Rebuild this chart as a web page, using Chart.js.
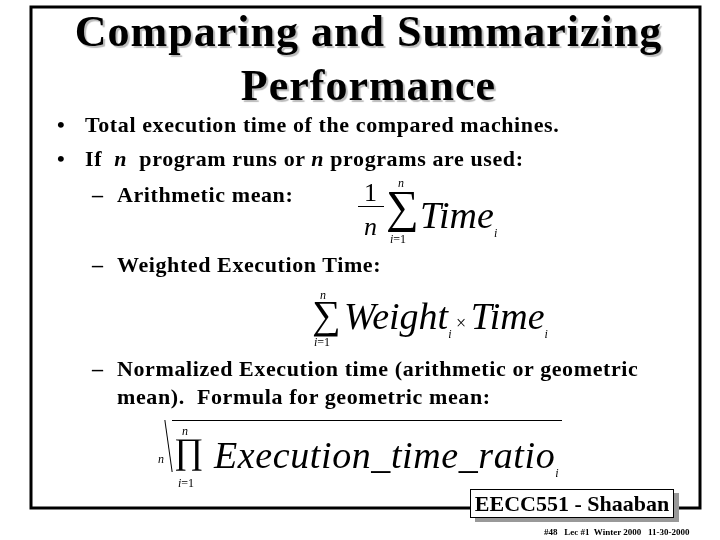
<!DOCTYPE html>
<html><head><meta charset="utf-8">
<script src="https://cdn.jsdelivr.net/npm/chart.js@4/dist/chart.umd.min.js"></script>
<style>
body{margin:0;width:720px;height:540px;background:#fff;font-family:"Liberation Serif","Times New Roman",serif;position:relative;overflow:hidden}
#c{position:absolute;left:0;top:0}
.t{position:absolute;white-space:nowrap;color:#000}
.title{font-weight:bold;font-size:44px;letter-spacing:1px;text-shadow:2px 2px 1px #bbb;left:0;width:737px;text-align:center}
.b{font-weight:bold;font-size:22px;letter-spacing:0.6px}
.m{font-style:italic;font-size:36px}
.s{font-size:12px}
.foot{position:absolute;left:470px;top:489px;width:202px;height:27px;border:1px solid #000;box-shadow:5px 4px 0 #999;background:#fff;font-size:22px;text-align:center;line-height:27px;font-weight:bold}
</style></head><body>
<canvas id="c" width="720" height="540"></canvas>
<div class="t title" style="top:6px">Comparing and Summarizing</div>
<div class="t title" style="top:60px">Performance</div>
<div class="t b" style="left:57px;top:112px">•</div>
<div class="t b" style="left:85px;top:112px">Total execution time of the compared machines.</div>
<div class="t b" style="left:57px;top:146px">•</div>
<div class="t b" style="left:85px;top:146px">If&nbsp; <i>n</i>&nbsp; program runs or <i>n</i> programs are used:</div>
<div class="t b" style="left:92px;top:182px">–</div>
<div class="t b" style="left:117px;top:182px">Arithmetic mean:</div>
<div class="t b" style="left:92px;top:252px">–</div>
<div class="t b" style="left:117px;top:252px">Weighted Execution Time:</div>
<div class="t b" style="left:92px;top:356px">–</div>
<div class="t b" style="left:117px;top:356px">Normalized Execution time (arithmetic or geometric</div>
<div class="t b" style="left:117px;top:384px">mean).&nbsp; Formula for geometric mean:</div>
<!-- arithmetic mean -->
<div class="t" style="left:364px;top:178px;font-size:26px">1</div>
<div class="t" style="left:358px;top:206px;width:26px;border-top:1px solid #000"></div>
<div class="t m" style="left:364px;top:212px;font-size:26px">n</div>
<div class="t" style="top:176px;font-size:12px;font-style:italic;left:398px">n</div>
<div class="t" style="left:386px;top:180px;font-size:46px">∑</div>
<div class="t s" style="left:390px;top:232px"><i>i</i>=1</div>
<div class="t m" style="left:420px;top:193px;font-size:38px">Time<sub style="font-size:12px">i</sub></div>
<!-- weighted -->
<div class="t s" style="left:320px;top:288px;font-style:italic">n</div>
<div class="t" style="left:312px;top:291px;font-size:40px">∑</div>
<div class="t s" style="left:314px;top:335px"><i>i</i>=1</div>
<div class="t m" style="left:344px;top:294px;font-size:38px">Weight<sub style="font-size:12px">i</sub><span style="font-style:normal;font-size:18px"> × </span>Time<sub style="font-size:12px">i</sub></div>
<!-- geometric -->
<div class="t s" style="left:158px;top:452px;font-style:italic">n</div>
<div class="t" style="left:148px;top:420px;width:20px;height:52px;border-right:1px solid #000;transform:skewX(8deg)"></div>
<div class="t" style="left:172px;top:420px;width:390px;border-top:1px solid #000"></div>
<div class="t s" style="left:182px;top:424px;font-style:italic">n</div>
<div class="t" style="left:174px;top:430px;font-size:36px">∏</div>
<div class="t s" style="left:178px;top:476px"><i>i</i>=1</div>
<div class="t m" style="left:214px;top:433px;font-size:38px;letter-spacing:0.6px">Execution_time_ratio<sub style="font-size:12px">i</sub></div>
<div class="foot">EECC551 - Shaaban</div>
<div class="t" style="left:544px;top:527px;font-size:9px;font-weight:bold">#48&nbsp;&nbsp; Lec #1&nbsp; Winter 2000&nbsp;&nbsp; 11-30-2000</div>
<script>
// slide frame drawn via a Chart.js plugin on an empty chart
const frameBox = [0, 0, 100, 100];
const framePlugin = {
  id: 'frame',
  beforeDraw(chart) {
    const ctx = chart.ctx;
    ctx.save();
    ctx.strokeStyle = '#000';
    ctx.lineWidth = 3;
    ctx.strokeRect(31, 7, 669, 501);
    ctx.restore();
  }
};
new Chart(document.getElementById('c'), {
  type: 'scatter',
  data: { datasets: [{ data: [] }] },
  options: {
    responsive: false, animation: false,
    plugins: { legend: { display: false }, tooltip: { enabled: false } },
    scales: { x: { display: false, min: frameBox[0], max: frameBox[2] }, y: { display: false, min: frameBox[1], max: frameBox[3] } }
  },
  plugins: [framePlugin]
});
</script>
</body></html>
